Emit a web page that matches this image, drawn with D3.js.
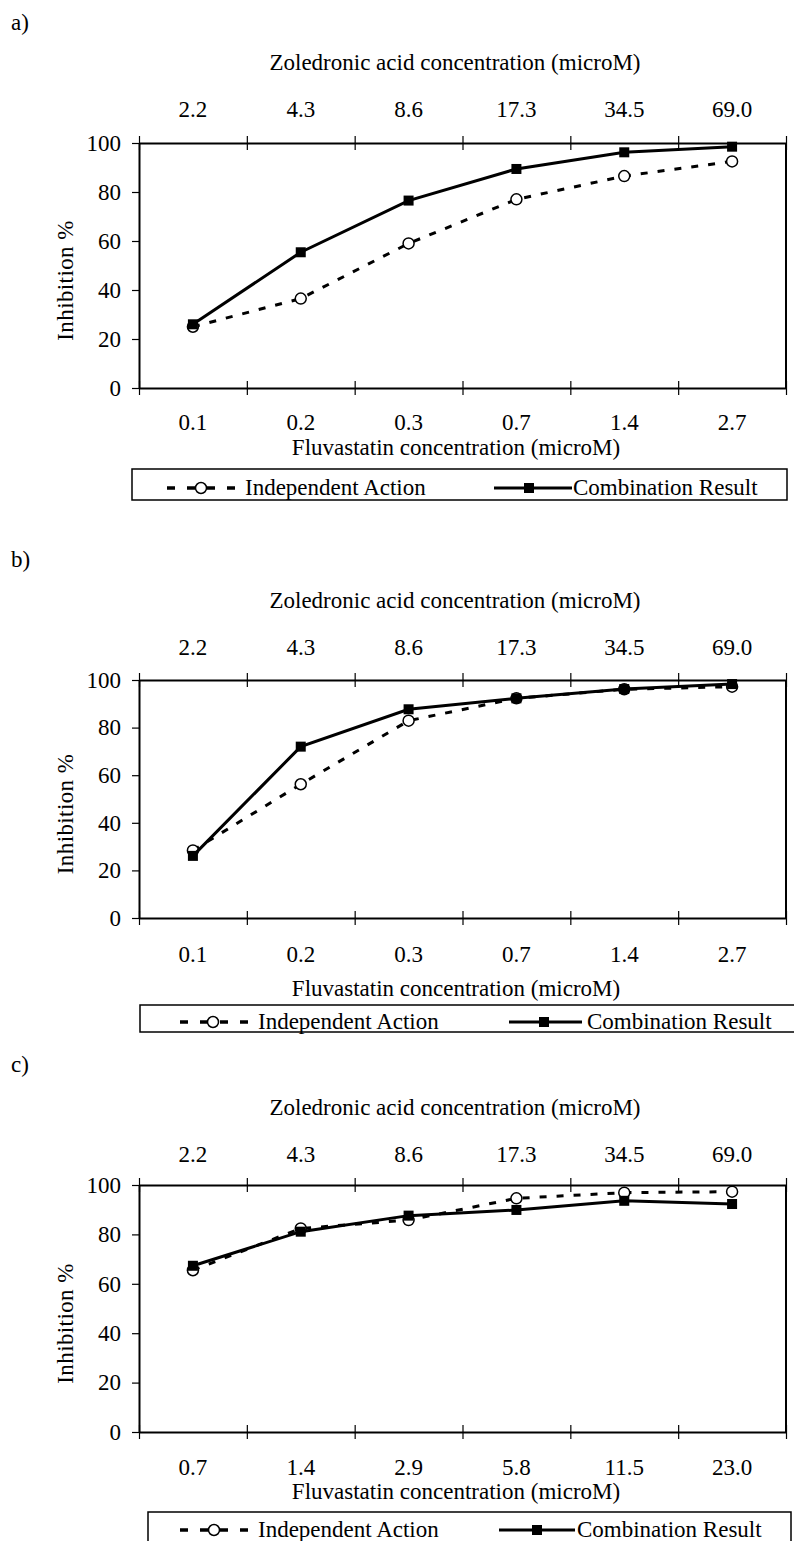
<!DOCTYPE html>
<html>
<head>
<meta charset="utf-8">
<script src="https://cdn.jsdelivr.net/npm/d3@7"></script>
<style>
  body { margin: 0; background: #fff; }
  svg text { fill: #000; }
</style>
</head>
<body>
<script>
// category labels
var zoledLabels = ["2.2", "4.3", "8.6", "17.3", "34.5", "69.0"];
var fluvaLabelsAB = ["0.1", "0.2", "0.3", "0.7", "1.4", "2.7"];
var fluvaLabelsC = ["0.7", "1.4", "2.9", "5.8", "11.5", "23.0"];
var yTicks = [0, 20, 40, 60, 80, 100];

// inhibition %
var indepA = [25, 36.5, 59, 77, 86.5, 92.5];
var combA = [26, 55.4, 76.5, 89.4, 96.2, 98.5];
var indepB = [28.4, 56.2, 82.9, 92.3, 96.1, 97.2];
var combB = [26.1, 72, 87.7, 92.3, 96.2, 98.3];
var indepC = [65.5, 82.4, 85.8, 94.6, 96.9, 97.3];
var combC = [67.3, 81.1, 87.6, 89.9, 93.6, 92.3];

var svgWidth = 794;
var svgHeight = 1541;
var plotLeft = 139;
var plotRight = 786;
var font = "'Liberation Serif', 'Times New Roman', serif";
var fs = 23;

var svg = d3.select("body")
    .append("svg")
    .attr("width", svgWidth)
    .attr("height", svgHeight)
    .style("font-family", font)
    .style("font-size", fs + "px");

// layout of the three panels
var panels = [
    { label: "a)", labelY: 30, titleY: 70, top: 143, bottom: 388, tickY: 430, xTitleY: 455,
      fluva: fluvaLabelsAB, indep: indepA, comb: combA,
      legend: { x: 132, y: 469, w: 655, h: 31, ty: 495, d1: 167, d2: 238, c: 201, t1: 245, l1: 494, l2: 572, s: 529, t2: 573 } },
    { label: "b)", labelY: 567, titleY: 608, top: 680, bottom: 918, tickY: 962, xTitleY: 996,
      fluva: fluvaLabelsAB, indep: indepB, comb: combB,
      legend: { x: 140, y: 1005, w: 660, h: 27, ty: 1029, d1: 180, d2: 250, c: 213, t1: 258, l1: 509, l2: 582, s: 544, t2: 587 } },
    { label: "c)", labelY: 1072, titleY: 1115, top: 1185, bottom: 1432, tickY: 1475, xTitleY: 1499,
      fluva: fluvaLabelsC, indep: indepC, comb: combC,
      legend: { x: 148, y: 1512, w: 643, h: 40, ty: 1537, d1: 180, d2: 252, c: 214, t1: 258, l1: 499, l2: 575, s: 537, t2: 577 } }
];

panels.forEach(drawPanel);

function drawPanel(p) {
    var g = svg.append("g");

    var y = d3.scaleLinear().domain([0, 100]).range([p.bottom, p.top]);
    var xBand = d3.scaleBand().domain(d3.range(6)).range([plotLeft, plotRight]);
    var xEdge = d3.scaleLinear().domain([0, 6]).range([plotLeft, plotRight]);
    var cx = function (d, i) { return xBand(i) + xBand.bandwidth() / 2; };

    g.append("text")
        .attr("x", 11)
        .attr("y", p.labelY)
        .text(p.label);

    g.append("text")
        .attr("x", 455)
        .attr("y", p.titleY)
        .attr("text-anchor", "middle")
        .text("Zoledronic acid concentration (microM)");

    // bottom and top edges with crossing ticks
    var bottomEdge = g.append("g")
        .attr("transform", `translate(0, ${p.bottom})`)
        .call(d3.axisBottom(xEdge).tickValues(d3.range(7)).tickFormat("").tickSize(7).tickSizeOuter(0));
    bottomEdge.selectAll(".tick line").attr("y1", -7).attr("stroke-width", 1.2);
    bottomEdge.select(".domain").attr("stroke-width", 2);

    var topEdge = g.append("g")
        .attr("transform", `translate(0, ${p.top})`)
        .call(d3.axisTop(xEdge).tickValues(d3.range(7)).tickFormat("").tickSize(7).tickSizeOuter(0));
    topEdge.selectAll(".tick line").attr("y1", 7).attr("stroke-width", 1.2);
    topEdge.select(".domain").attr("stroke-width", 2);

    // category labels
    var bottomLabels = g.append("g")
        .attr("transform", `translate(0, ${p.bottom})`)
        .call(d3.axisBottom(xBand).tickFormat(function (i) { return p.fluva[i]; }).tickSize(0));
    bottomLabels.attr("font-family", font).attr("font-size", fs);
    bottomLabels.select(".domain").remove();
    bottomLabels.selectAll("text").attr("y", p.tickY - p.bottom).attr("dy", 0);

    var topLabels = g.append("g")
        .attr("transform", `translate(0, ${p.top})`)
        .call(d3.axisTop(xBand).tickFormat(function (i) { return zoledLabels[i]; }).tickSize(0));
    topLabels.attr("font-family", font).attr("font-size", fs);
    topLabels.select(".domain").remove();
    topLabels.selectAll("text").attr("y", p.titleY + 47 - p.top).attr("dy", 0);

    // y axis
    var leftAxis = g.append("g")
        .attr("transform", `translate(${plotLeft}, 0)`)
        .call(d3.axisLeft(y).tickValues(yTicks).tickSize(7).tickPadding(11).tickSizeOuter(0));
    leftAxis.attr("font-family", font).attr("font-size", fs);
    leftAxis.select(".domain").attr("stroke-width", 2);
    leftAxis.selectAll(".tick line").attr("stroke-width", 1.2);

    // right border
    g.append("line")
        .attr("x1", xEdge(6)).attr("x2", xEdge(6))
        .attr("y1", y(100)).attr("y2", y(0))
        .attr("stroke", "#000")
        .attr("stroke-width", 2);

    g.append("text")
        .attr("transform", `translate(65, ${(p.top + p.bottom) / 2 + 15}) rotate(-90)`)
        .attr("text-anchor", "middle")
        .attr("dy", "0.35em")
        .style("letter-spacing", "0.4px")
        .text("Inhibition %");

    g.append("text")
        .attr("x", 456)
        .attr("y", p.xTitleY)
        .attr("text-anchor", "middle")
        .text("Fluvastatin concentration (microM)");

    var line = d3.line().x(cx).y(function (d) { return y(d); });

    // independent action: dashed, open circles
    g.append("path")
        .datum(p.indep)
        .attr("d", line)
        .attr("fill", "none")
        .attr("stroke", "#000")
        .attr("stroke-width", 3)
        .attr("stroke-dasharray", "7,10");

    g.selectAll(".ind")
        .data(p.indep)
        .enter()
        .append("circle")
        .attr("class", "ind")
        .attr("cx", cx)
        .attr("cy", function (d) { return y(d); })
        .attr("r", 5.5)
        .attr("fill", "#fff")
        .attr("stroke", "#000")
        .attr("stroke-width", 1.5);

    // combination result: solid, filled squares
    g.append("path")
        .datum(p.comb)
        .attr("d", line)
        .attr("fill", "none")
        .attr("stroke", "#000")
        .attr("stroke-width", 3);

    g.selectAll(".comb")
        .data(p.comb)
        .enter()
        .append("rect")
        .attr("class", "comb")
        .attr("x", function (d, i) { return cx(d, i) - 5; })
        .attr("y", function (d) { return y(d) - 5; })
        .attr("width", 10)
        .attr("height", 10)
        .attr("fill", "#000");

    // legend
    var L = p.legend;
    var mid = L.ty - 7;
    g.append("rect")
        .attr("x", L.x).attr("y", L.y)
        .attr("width", L.w).attr("height", L.h)
        .attr("fill", "none")
        .attr("stroke", "#000")
        .attr("stroke-width", 1.5);

    g.append("line")
        .attr("x1", L.d1).attr("x2", L.d2)
        .attr("y1", mid).attr("y2", mid)
        .attr("stroke", "#000")
        .attr("stroke-width", 3.5)
        .attr("stroke-dasharray", "8,12");
    g.append("circle")
        .attr("cx", L.c).attr("cy", mid).attr("r", 5.5)
        .attr("fill", "#fff").attr("stroke", "#000").attr("stroke-width", 1.5);
    g.append("text")
        .attr("x", L.t1).attr("y", L.ty)
        .text("Independent Action");

    g.append("line")
        .attr("x1", L.l1).attr("x2", L.l2)
        .attr("y1", mid).attr("y2", mid)
        .attr("stroke", "#000")
        .attr("stroke-width", 3);
    g.append("rect")
        .attr("x", L.s - 5).attr("y", mid - 5)
        .attr("width", 10).attr("height", 10)
        .attr("fill", "#000");
    g.append("text")
        .attr("x", L.t2).attr("y", L.ty)
        .text("Combination Result");
}
</script>
</body>
</html>
